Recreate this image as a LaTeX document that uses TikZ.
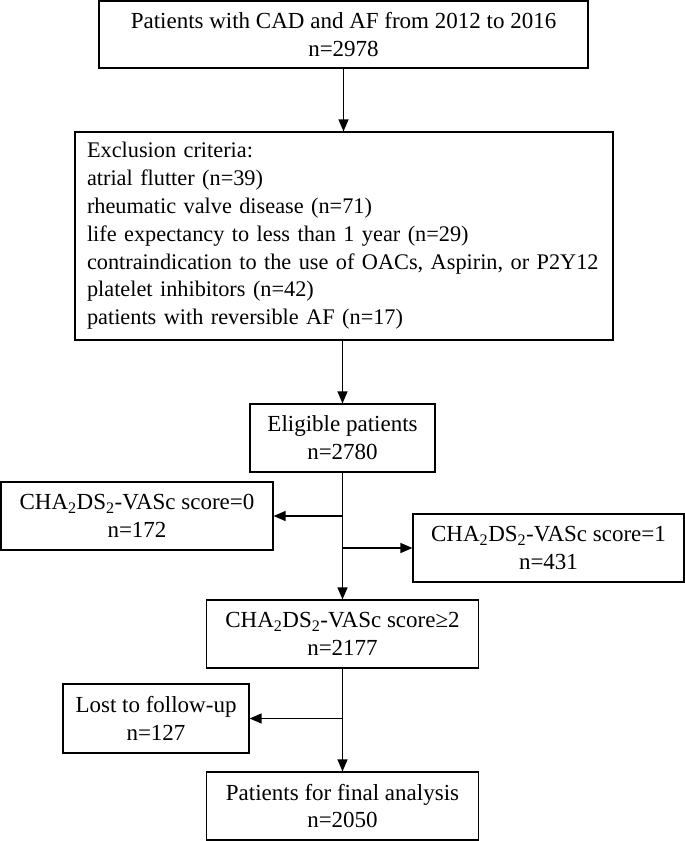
\documentclass[tikz,border=0pt]{standalone}
\usepackage{fontspec}
\setmainfont{Liberation Serif}
\usetikzlibrary{arrows.meta}

\begin{document}
\begin{tikzpicture}[x=1pt, y=-1pt,
    caja/.style={draw, line width=1.2pt, rectangle, inner sep=0pt, align=center,
      font=\fontsize{23}{27.8}\selectfont},
    flecha/.style={line width=1.4pt, -{Triangle[length=12pt, width=10pt]}}]

    \useasboundingbox (0, 0) rectangle (685, 841);

    % Cajas
    \node[caja, minimum width=489pt, minimum height=67pt] (patients) at (343.5, 34.5)
      {Patients with CAD and AF from 2012 to 2016\\n=2978};
    \node[caja, minimum width=538pt, minimum height=208pt, align=left,
      text width=514pt, font=\fontsize{22.3}{27.8}\selectfont] (exclusion) at (344, 236)
      {Exclusion criteria:\\
       atrial flutter (n=39)\\
       rheumatic valve disease (n=71)\\
       life expectancy to less than 1 year (n=29)\\
       contraindication to the use of OACs, Aspirin, or P2Y12\\
       platelet inhibitors (n=42)\\
       patients with reversible AF (n=17)};
    \node[caja, minimum width=185pt, minimum height=68pt] (eligible) at (342.5, 438)
      {Eligible patients\\n=2780};
    \node[caja, minimum width=272pt, minimum height=68pt] (score0) at (137, 516)
      {CHA\textsubscript{2}DS\textsubscript{2}-VASc score=0\\n=172};
    \node[caja, minimum width=271pt, minimum height=68pt] (score1) at (548.5, 548)
      {CHA\textsubscript{2}DS\textsubscript{2}-VASc score=1\\n=431};
    \node[caja, minimum width=272pt, minimum height=68pt] (score2) at (342.5, 634)
      {CHA\textsubscript{2}DS\textsubscript{2}-VASc score≥2\\n=2177};
    \node[caja, minimum width=186pt, minimum height=69pt] (lost) at (156, 718.5)
      {Lost to follow-up\\n=127};
    \node[caja, minimum width=272pt, minimum height=68pt] (final) at (342.5, 806)
      {Patients for final analysis\\n=2050};

    % Puntos de bifurcación
    \coordinate (b0) at (eligible.south |- score0.east);
    \coordinate (b1) at (eligible.south |- score1.west);
    \coordinate (b2) at (score2.south |- lost.east);

    % Flechas
    \draw[flecha] (patients) -- (patients.south |- exclusion.north);
    \draw[flecha] (exclusion.south -| eligible.north) -- (eligible);
    \draw[flecha] (eligible) -- (score2);
    \draw[flecha] (b0) -- (score0);
    \draw[flecha] (b1) -- (score1);
    \draw[flecha] (score2) -- (final);
    \draw[flecha] (b2) -- (lost);

  \end{tikzpicture}
\end{document}
